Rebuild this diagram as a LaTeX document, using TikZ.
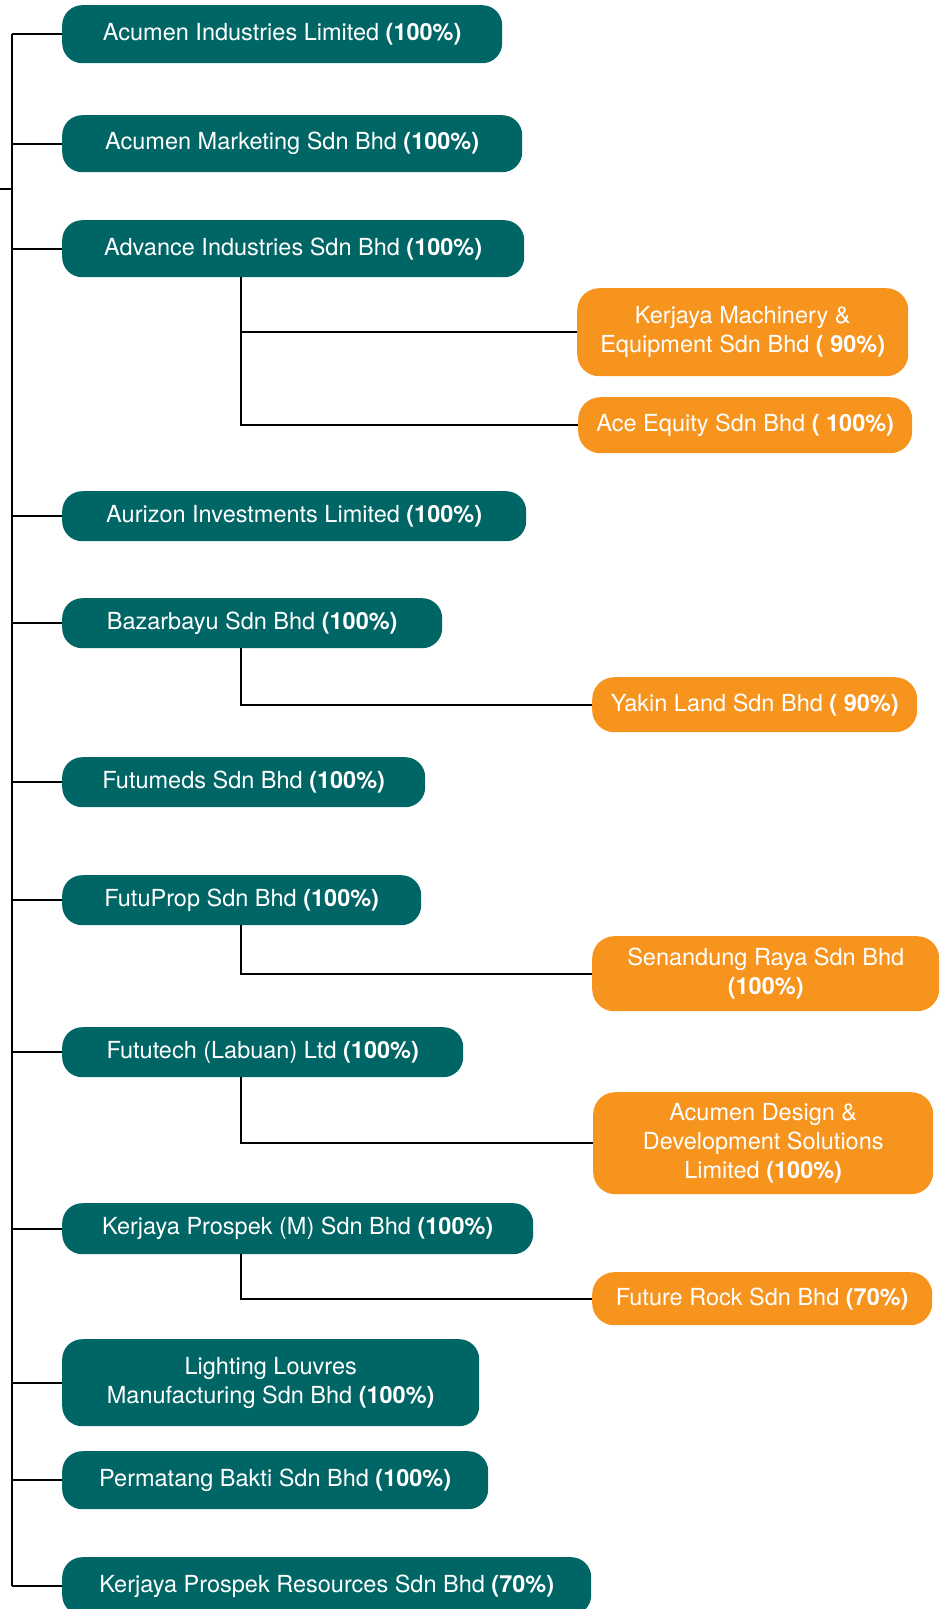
\documentclass[tikz,border=0pt]{standalone}
\usepackage{fontspec}
\setmainfont{TeX Gyre Heros}
\definecolor{groupteal}{RGB}{0,101,101}
\definecolor{grouporange}{RGB}{247,148,30}
\tikzset{
  company/.style={rounded corners=20pt, anchor=north west, inner sep=0pt,
    text=white, align=center, font=\fontsize{23.5}{29}\selectfont},
  subsid/.style={company, fill=groupteal},
  assoc/.style={company, fill=grouporange, rounded corners=22pt},
  link/.style={draw=black, line width=2pt}
}
\begin{document}
\begin{tikzpicture}[x=1pt,y=-1pt]
      \useasboundingbox (0,0) rectangle (940,1609);

      % draw the first level companies
      \node[subsid, minimum width=440, minimum height=58] (aci) at (62,5) {Acumen Industries Limited \textbf{(100\%)}};
      \node[subsid, minimum width=460, minimum height=57] (ams) at (62,115) {Acumen Marketing Sdn Bhd \textbf{(100\%)}};
      \node[subsid, minimum width=462, minimum height=57] (ais) at (62,220) {Advance Industries Sdn Bhd \textbf{(100\%)}};
      \node[subsid, minimum width=464, minimum height=50] (ail) at (62,491) {Aurizon Investments Limited \textbf{(100\%)}};
      \node[subsid, minimum width=380, minimum height=50] (bsb) at (62,598) {Bazarbayu Sdn Bhd \textbf{(100\%)}};
      \node[subsid, minimum width=363, minimum height=50] (fms) at (62,757) {Futumeds Sdn Bhd \textbf{(100\%)}};
      \node[subsid, minimum width=359, minimum height=50] (fps) at (62,875) {FutuProp Sdn Bhd \textbf{(100\%)}};
      \node[subsid, minimum width=401, minimum height=50] (ftl) at (62,1027) {Fututech (Labuan) Ltd \textbf{(100\%)}};
      \node[subsid, minimum width=471, minimum height=51] (kpm) at (62,1203) {Kerjaya Prospek (M) Sdn Bhd \textbf{(100\%)}};
      \node[subsid, minimum width=417, minimum height=87] (llm) at (62,1339) {Lighting Louvres\\Manufacturing Sdn Bhd \textbf{(100\%)}};
      \node[subsid, minimum width=426, minimum height=58] (pbs) at (62,1451) {Permatang Bakti Sdn Bhd \textbf{(100\%)}};
      \node[subsid, minimum width=529, minimum height=58] (kpr) at (62,1557) {Kerjaya Prospek Resources Sdn Bhd \textbf{(70\%)}};

      % draw the second level companies
      \node[assoc, minimum width=331, minimum height=88] (kme) at (577,288) {Kerjaya Machinery \&\\Equipment Sdn Bhd \textbf{( 90\%)}};
      \node[assoc, minimum width=334, minimum height=56] (aes) at (578,397) {Ace Equity Sdn Bhd \textbf{( 100\%)}};
      \node[assoc, minimum width=325, minimum height=55] (yls) at (592,677) {Yakin Land Sdn Bhd \textbf{( 90\%)}};
      \node[assoc, minimum width=347, minimum height=75] (srs) at (592,936) {Senandung Raya Sdn Bhd\\\textbf{(100\%)}};
      \node[assoc, minimum width=340, minimum height=102] (add) at (593,1092) {Acumen Design \&\\Development Solutions\\Limited \textbf{(100\%)}};
      \node[assoc, minimum width=340, minimum height=53] (frs) at (592,1272) {Future Rock Sdn Bhd \textbf{(70\%)}};

      % draw the trunk line
      \coordinate (trunk) at (12,0);
      \coordinate (root) at (0,189);
      \coordinate (drop) at (241,0);
      \draw[link] (root) -- (root -| trunk);
      \draw[link] (aci.west -| trunk) -- (kpr.west -| trunk);
      \foreach \n in {aci,ams,ais,ail,bsb,fms,fps,ftl,kpm,llm,pbs,kpr}
        \draw[link] (\n.west -| trunk) -- (\n.west);

      % draw the branch lines to the second level
      \draw[link] (ais.south -| drop) |- (kme.west);
      \draw[link] (ais.south -| drop) |- (aes.west);
      \draw[link] (bsb.south -| drop) |- (yls.west);
      \draw[link] (fps.south -| drop) |- (srs.west);
      \draw[link] (ftl.south -| drop) |- (add.west);
      \draw[link] (kpm.south -| drop) |- (frs.west);
    \end{tikzpicture}
\end{document}
